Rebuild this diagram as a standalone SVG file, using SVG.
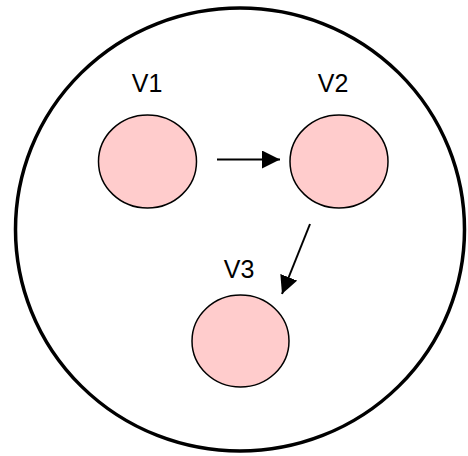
<svg xmlns="http://www.w3.org/2000/svg" width="468" height="456" viewBox="0 0 468 456">
  <style>
    .node { fill: #ffcccc; stroke: #000; stroke-width: 1.5; }
    .label { font-family: "Liberation Sans", Arial, sans-serif; font-size: 25px; fill: #000; text-anchor: middle; }
    .edge { stroke: #000; stroke-width: 2; fill: none; marker-end: url(#arrow); }
  </style>
  <defs>
    <marker id="arrow" markerUnits="userSpaceOnUse" markerWidth="18" markerHeight="18" viewBox="0 0 16 16" refX="16" refY="8" orient="auto">
      <path d="M0,0 L16,8 L0,16 Z" fill="#000"/>
    </marker>
  </defs>
  <rect width="468" height="456" fill="#fff"/>
  <!-- enclosing boundary -->
  <ellipse id="boundary" cx="240" cy="229.5" rx="224.5" ry="221.5" fill="none" stroke="#000" stroke-width="3.5"/>
  <g id="V1">
    <ellipse class="node" cx="147.5" cy="161.5" rx="49" ry="46.5"/>
    <text class="label" x="147" y="92">V1</text>
  </g>
  <g id="V2">
    <ellipse class="node" cx="339" cy="161.5" rx="49" ry="46.5"/>
    <text class="label" x="333" y="92">V2</text>
  </g>
  <g id="V3">
    <ellipse class="node" cx="240.5" cy="341" rx="48.5" ry="46"/>
    <text class="label" x="239" y="278">V3</text>
  </g>
  <g id="connectors">
    <line class="edge" x1="217" y1="159.5" x2="280" y2="159.5"/>
    <line class="edge" x1="310" y1="224" x2="282" y2="294"/>
  </g>
</svg>
